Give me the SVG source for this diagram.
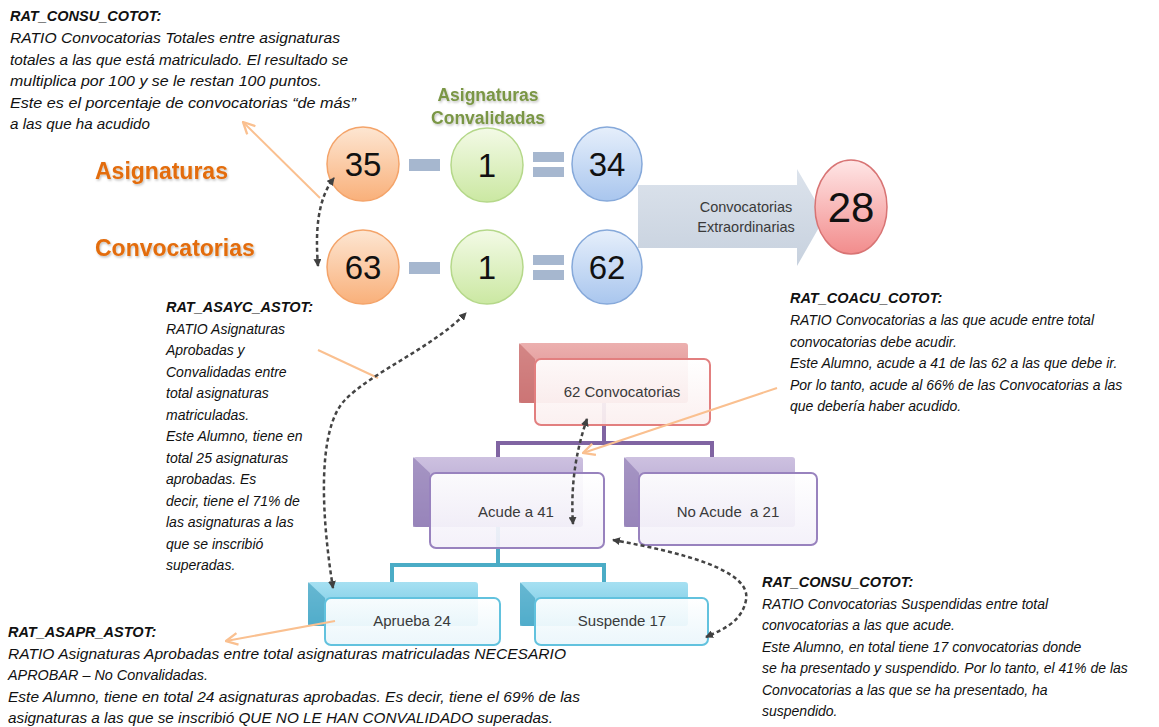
<svg xmlns="http://www.w3.org/2000/svg" width="1159" height="727" viewBox="0 0 1159 727">
<defs>
  <linearGradient id="gOr" x1="0" y1="0" x2="0" y2="1"><stop offset="0" stop-color="#FDE6D2"/><stop offset="1" stop-color="#F9B07A"/></linearGradient>
  <linearGradient id="gGr" x1="0" y1="0" x2="0" y2="1"><stop offset="0" stop-color="#F3FAE6"/><stop offset="1" stop-color="#CBE8A2"/></linearGradient>
  <linearGradient id="gBl" x1="0" y1="0" x2="0" y2="1"><stop offset="0" stop-color="#E6EFFB"/><stop offset="1" stop-color="#A9C6EE"/></linearGradient>
  <linearGradient id="gRd" x1="0" y1="0" x2="0" y2="1"><stop offset="0" stop-color="#FFE6E6"/><stop offset="1" stop-color="#F28C8C"/></linearGradient>
  <linearGradient id="gArr" x1="0" y1="0" x2="0" y2="1"><stop offset="0" stop-color="#DCE3EC"/><stop offset="1" stop-color="#C7D1DE"/></linearGradient>
  <linearGradient id="gRB" x1="0" y1="0" x2="0" y2="1"><stop offset="0" stop-color="#ECB0AF"/><stop offset="1" stop-color="#D98485"/></linearGradient>
  <linearGradient id="gPB" x1="0" y1="0" x2="0" y2="1"><stop offset="0" stop-color="#CDC1E0"/><stop offset="1" stop-color="#A896C8"/></linearGradient>
  <linearGradient id="gBB" x1="0" y1="0" x2="0" y2="1"><stop offset="0" stop-color="#A6E0F2"/><stop offset="1" stop-color="#6CC4E0"/></linearGradient>
  <linearGradient id="gRF" x1="0" y1="0" x2="0" y2="1"><stop offset="0" stop-color="#FFFFFF"/><stop offset="1" stop-color="#FBEFEF"/></linearGradient>
  <linearGradient id="gPF" x1="0" y1="0" x2="0" y2="1"><stop offset="0" stop-color="#FFFFFF"/><stop offset="1" stop-color="#F3F0F9"/></linearGradient>
  <linearGradient id="gBF" x1="0" y1="0" x2="0" y2="1"><stop offset="0" stop-color="#FFFFFF"/><stop offset="1" stop-color="#EAF6FB"/></linearGradient>
  <marker id="dA" viewBox="0 0 8 8" refX="7" refY="4" markerWidth="8" markerHeight="8" markerUnits="userSpaceOnUse" orient="auto-start-reverse">
    <path d="M0,0 L8,4 L0,8 z" fill="#404040"/>
  </marker>
  <marker id="oA" viewBox="0 0 12 12" refX="11" refY="6" markerWidth="14" markerHeight="14" markerUnits="userSpaceOnUse" orient="auto">
    <path d="M1,1 L11,6 L1,11" fill="none" stroke="#FAC090" stroke-width="2"/>
  </marker>
  <filter id="sh" x="-10%" y="-10%" width="130%" height="140%">
    <feDropShadow dx="1" dy="1.5" stdDeviation="1" flood-color="#000" flood-opacity="0.25"/>
  </filter>
</defs>
<style>
  .t{font-family:"Liberation Sans",Arial,sans-serif;font-style:italic;font-size:14px;fill:#111}
  .h{font-weight:bold;font-size:14.5px}
  .num{font-family:"Liberation Sans",Arial,sans-serif;font-size:33px;fill:#111;text-anchor:middle}
  .lbl{font-family:"Liberation Sans",Arial,sans-serif;font-size:15px;fill:#3a3a3a;text-anchor:middle}
  .big{font-family:"Liberation Sans",Arial,sans-serif;font-weight:bold;font-size:23px;fill:#E36C09}
  .grn{font-family:"Liberation Sans",Arial,sans-serif;font-weight:bold;font-size:17.5px;fill:#7A9644;text-anchor:middle}
  .dot{fill:none;stroke:#444;stroke-width:2.5;stroke-dasharray:4 3;marker-start:url(#dA);marker-end:url(#dA)}
  .or{fill:none;stroke:#FAC090;stroke-width:2}
  .op{fill:#A6B7CF}
  .cO{fill:url(#gOr);stroke:#F4A46A;stroke-width:1.5}
  .cG{fill:url(#gGr);stroke:#B5D88A;stroke-width:1.5}
  .cB{fill:url(#gBl);stroke:#86A9DA;stroke-width:1.5}
  .oc{fill:none;stroke-width:4}
</style>

<!-- Explanatory notes -->
<g id="note-top-left">
  <text class="t h" x="10" y="21">RAT_CONSU_COTOT:</text>
  <text class="t" x="10" y="43" textLength="330" lengthAdjust="spacingAndGlyphs">RATIO Convocatorias Totales entre asignaturas</text>
  <text class="t" x="10" y="64.5" textLength="338" lengthAdjust="spacingAndGlyphs">totales a las que está matriculado. El resultado se</text>
  <text class="t" x="10" y="86" textLength="312" lengthAdjust="spacingAndGlyphs">multiplica por 100 y se le restan 100 puntos.</text>
  <text class="t" x="10" y="107.5" textLength="346" lengthAdjust="spacingAndGlyphs">Este es el porcentaje de convocatorias “de más”</text>
  <text class="t" x="10" y="129" textLength="140" lengthAdjust="spacingAndGlyphs">a las que ha acudido</text>
</g>

<g id="note-mid-left">
  <text class="t h" x="166" y="312">RAT_ASAYC_ASTOT:</text>
  <text class="t" x="166" y="333.5">RATIO Asignaturas</text>
  <text class="t" x="166" y="355">Aprobadas y</text>
  <text class="t" x="166" y="376.5">Convalidadas entre</text>
  <text class="t" x="166" y="398">total asignaturas</text>
  <text class="t" x="166" y="419.5">matriculadas.</text>
  <text class="t" x="166" y="441">Este Alumno, tiene en</text>
  <text class="t" x="166" y="462.5">total 25 asignaturas</text>
  <text class="t" x="166" y="484">aprobadas. Es</text>
  <text class="t" x="166" y="505.5">decir, tiene el 71% de</text>
  <text class="t" x="166" y="527">las asignaturas a las</text>
  <text class="t" x="166" y="548.5">que se inscribió</text>
  <text class="t" x="166" y="570">superadas.</text>
</g>

<g id="note-right">
  <text class="t h" x="790" y="303">RAT_COACU_COTOT:</text>
  <text class="t" x="790" y="325">RATIO Convocatorias a las que acude entre total</text>
  <text class="t" x="790" y="346.5">convocatorias debe acudir.</text>
  <text class="t" x="790" y="368">Este Alumno, acude a 41 de las 62 a las que debe ir.</text>
  <text class="t" x="790" y="389.5">Por lo tanto, acude al 66% de las Convocatorias a las</text>
  <text class="t" x="790" y="411">que debería haber acudido.</text>
</g>

<g id="note-bottom-left">
  <text class="t h" x="8" y="637">RAT_ASAPR_ASTOT:</text>
  <text class="t" x="8" y="658.5" textLength="558" lengthAdjust="spacingAndGlyphs">RATIO Asignaturas Aprobadas entre total asignaturas matriculadas NECESARIO</text>
  <text class="t" x="8" y="680" textLength="200" lengthAdjust="spacingAndGlyphs">APROBAR – No Convalidadas.</text>
  <text class="t" x="8" y="701.5" textLength="572" lengthAdjust="spacingAndGlyphs">Este Alumno, tiene en total 24 asignaturas aprobadas. Es decir, tiene el 69% de las</text>
  <text class="t" x="8" y="723" textLength="545" lengthAdjust="spacingAndGlyphs">asignaturas a las que se inscribió QUE NO LE HAN CONVALIDADO superadas.</text>
</g>

<g id="note-bottom-right">
  <text class="t h" x="762" y="587">RAT_CONSU_COTOT:</text>
  <text class="t" x="762" y="608.5">RATIO Convocatorias Suspendidas entre total</text>
  <text class="t" x="762" y="630">convocatorias a las que acude.</text>
  <text class="t" x="762" y="651.5">Este Alumno, en total tiene 17 convocatorias donde</text>
  <text class="t" x="762" y="673">se ha presentado y suspendido. Por lo tanto, el 41% de las</text>
  <text class="t" x="762" y="694.5">Convocatorias a las que se ha presentado, ha</text>
  <text class="t" x="762" y="716">suspendido.</text>
</g>

<!-- Row labels -->
<g id="label-asignaturas"><text class="big" x="95" y="179" filter="url(#sh)">Asignaturas</text></g>
<g id="label-convocatorias"><text class="big" x="95" y="256" filter="url(#sh)">Convocatorias</text></g>
<g id="label-convalidadas">
  <text class="grn" x="488" y="101" filter="url(#sh)">Asignaturas</text>
  <text class="grn" x="488" y="124" filter="url(#sh)">Convalidadas</text>
</g>

<!-- Big arrow -->
<g id="arrow-extra">
  <polygon points="638,185 797,185 797,169 825,217 797,266 797,248 638,248" fill="url(#gArr)"/>
  <text class="lbl" x="746" y="212" style="font-size:14.5px">Convocatorias</text>
  <text class="lbl" x="746" y="232" style="font-size:14.5px">Extraordinarias</text>
</g>

<!-- Circles top row -->
<g id="c35"><ellipse class="cO" cx="363" cy="164" rx="36" ry="37"/><text class="num" x="363" y="176">35</text></g>
<g id="minus1"><rect class="op" x="409" y="159" width="31" height="12"/></g>
<g id="c1a"><ellipse class="cG" cx="487" cy="165" rx="36" ry="37"/><text class="num" x="487" y="177">1</text></g>
<g id="eq1"><rect class="op" x="533" y="152" width="31" height="10"/><rect class="op" x="533" y="167" width="31" height="10"/></g>
<g id="c34"><ellipse class="cB" cx="607" cy="164" rx="35" ry="37"/><text class="num" x="607" y="176">34</text></g>

<!-- Circles bottom row -->
<g id="c63"><ellipse class="cO" cx="363" cy="267" rx="36" ry="37"/><text class="num" x="363" y="279">63</text></g>
<g id="minus2"><rect class="op" x="409" y="262" width="31" height="12"/></g>
<g id="c1b"><ellipse class="cG" cx="487" cy="267" rx="36" ry="37"/><text class="num" x="487" y="279">1</text></g>
<g id="eq2"><rect class="op" x="533" y="255" width="31" height="10"/><rect class="op" x="533" y="270" width="31" height="10"/></g>
<g id="c62"><ellipse class="cB" cx="607" cy="267" rx="35" ry="37"/><text class="num" x="607" y="279">62</text></g>

<g id="c28"><ellipse cx="851" cy="207" rx="36" ry="47" fill="url(#gRd)" stroke="#D87474" stroke-width="1.5"/><text class="num" x="851" y="222" style="font-size:42px">28</text></g>

<!-- Org chart connectors -->
<g id="org-connectors">
  <path class="oc" stroke="#8064A2" d="M604,400 V443 M498,443 H712 M498,441 V460 M712,441 V460"/>
  <path class="oc" stroke="#4BACC6" d="M498,520 V565 M392,565 H604 M392,563 V585 M604,563 V585"/>
</g>

<!-- Org chart nodes -->
<g id="org-62">
  <rect x="519" y="343" width="169" height="60" rx="3" fill="url(#gRB)"/>
  <polygon points="519,343 535,359 535,403 519,403" fill="#C36A6A" opacity="0.6"/>
  <rect x="535" y="359" width="175" height="66" rx="6" fill="url(#gRF)" fill-opacity="0.93" stroke="#E27F7F" stroke-width="2"/>
  <text class="lbl" x="622" y="397">62 Convocatorias</text>
</g>
<g id="org-acude">
  <rect x="413" y="457" width="170" height="70" rx="3" fill="url(#gPB)"/>
  <polygon points="413,457 430,473 430,527 413,527" fill="#8C78B0" opacity="0.6"/>
  <rect x="430" y="473" width="174" height="75" rx="6" fill="url(#gPF)" fill-opacity="0.93" stroke="#9882BE" stroke-width="2"/>
  <text class="lbl" x="516" y="517">Acude a 41</text>
</g>
<g id="org-noacude">
  <rect x="624" y="457" width="171" height="70" rx="3" fill="url(#gPB)"/>
  <polygon points="624,457 639,473 639,527 624,527" fill="#8C78B0" opacity="0.6"/>
  <rect x="639" y="473" width="178" height="72" rx="6" fill="url(#gPF)" fill-opacity="0.93" stroke="#9882BE" stroke-width="2"/>
  <text class="lbl" x="728" y="517" xml:space="preserve">No Acude  a 21</text>
</g>
<g id="org-aprueba">
  <rect x="308" y="582" width="170" height="44" rx="3" fill="url(#gBB)"/>
  <polygon points="308,582 325,598 325,626 308,626" fill="#3E9DBD" opacity="0.6"/>
  <rect x="325" y="598" width="175" height="47" rx="6" fill="url(#gBF)" fill-opacity="0.93" stroke="#62C2DE" stroke-width="2"/>
  <text class="lbl" x="412" y="626">Aprueba 24</text>
</g>
<g id="org-suspende">
  <rect x="520" y="582" width="168" height="44" rx="3" fill="url(#gBB)"/>
  <polygon points="520,582 535,598 535,626 520,626" fill="#3E9DBD" opacity="0.6"/>
  <rect x="535" y="598" width="173" height="47" rx="6" fill="url(#gBF)" fill-opacity="0.93" stroke="#62C2DE" stroke-width="2"/>
  <text class="lbl" x="622" y="626">Suspende 17</text>
</g>

<!-- Annotation connectors -->
<g id="connectors">
  <path class="or" d="M320,198 L243,122" marker-end="url(#oA)"/>
  <path class="or" d="M318,350 L378,378"/>
  <path class="or" d="M777,388 L583,453" marker-end="url(#oA)"/>
  <path class="or" d="M335,621 L226,641" marker-end="url(#oA)"/>
  <path class="dot" d="M318,266 C315,230 318,198 334,178"/>
  <path class="dot" d="M333,588 C322,520 316,430 345,400 C372,372 432,348 466,313"/>
  <path class="dot" d="M587,419 C578,445 570,480 573,524"/>
  <path class="dot" d="M613,540 C680,552 752,570 746,600 C742,622 722,630 706,637"/>
</g>
</svg>
